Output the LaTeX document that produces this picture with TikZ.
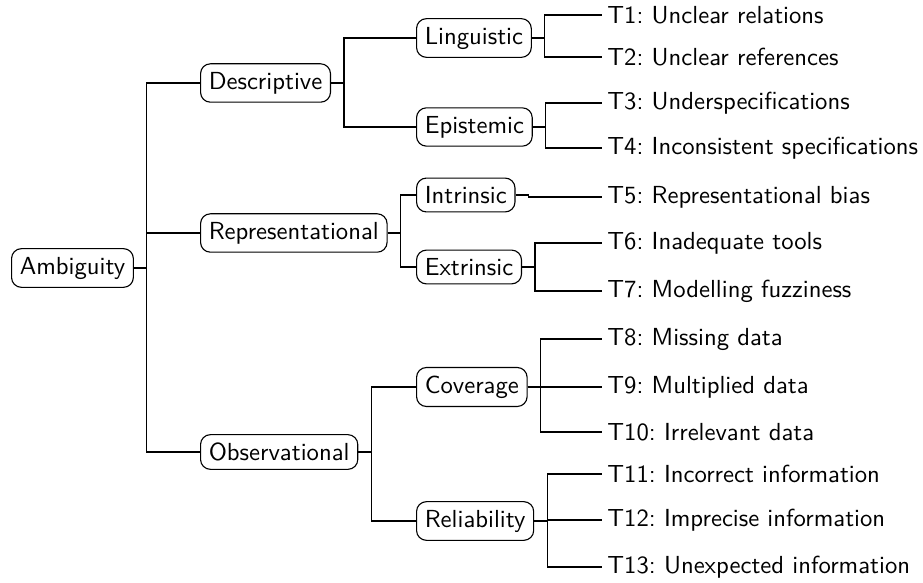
\documentclass[tikz,border=0pt]{standalone}
\begin{document}
\frenchspacing
\begin{tikzpicture}[x=0.405pt,y=-0.405pt, font=\sffamily,
  box/.style={draw, rounded corners=4pt, line width=0.45pt, anchor=west, inner sep=0.3333em},
  leaf/.style={anchor=west, inner xsep=2pt},
  conn/.style={line width=0.45pt}]
\useasboundingbox (0,0) rectangle (923,583);
% level 0
\node[box] (amb) at (11,268) {Ambiguity};
% level 1
\node[box] (desc) at (200,83) {Descriptive};
\node[box] (rep) at (200,233) {Representational};
\node[box] (obs) at (200,452) {Observational};
% level 2
\node[box] (ling) at (416,38) {Linguistic};
\node[box] (epis) at (416,127) {Epistemic};
\node[box] (intr) at (416,195) {Intrinsic};
\node[box] (extr) at (416,267) {Extrinsic};
\node[box] (cov) at (416,387) {Coverage};
\node[box] (rel) at (416,521) {Reliability};
% leaves
\node[leaf] (t1) at (602,15) {T1: Unclear relations};
\node[leaf] (t2) at (602,57) {T2: Unclear references};
\node[leaf] (t3) at (602,103) {T3: Underspecifications};
\node[leaf] (t4) at (602,148) {T4: Inconsistent specifications};
\node[leaf] (t5) at (602,197) {T5: Representational bias};
\node[leaf] (t6) at (602,243) {T6: Inadequate tools};
\node[leaf] (t7) at (602,291) {T7: Modelling fuzziness};
\node[leaf] (t8) at (602,339) {T8: Missing data};
\node[leaf] (t9) at (602,387) {T9: Multiplied data};
\node[leaf] (t10) at (602,432) {T10: Irrelevant data};
\node[leaf] (t11) at (602,474) {T11: Incorrect information};
\node[leaf] (t12) at (602,520) {T12: Imprecise information};
\node[leaf] (t13) at (602,567) {T13: Unexpected information};
% connectors
\foreach \p/\c in {amb/desc, amb/rep, amb/obs,
  desc/ling, desc/epis, rep/intr, rep/extr, obs/cov, obs/rel,
  ling/t1, ling/t2, epis/t3, epis/t4, intr/t5, extr/t6, extr/t7,
  cov/t8, cov/t9, cov/t10, rel/t11, rel/t12, rel/t13}
  \draw[conn] (\p.east) -- ++(13,0) |- (\c.west);
\end{tikzpicture}
\end{document}
